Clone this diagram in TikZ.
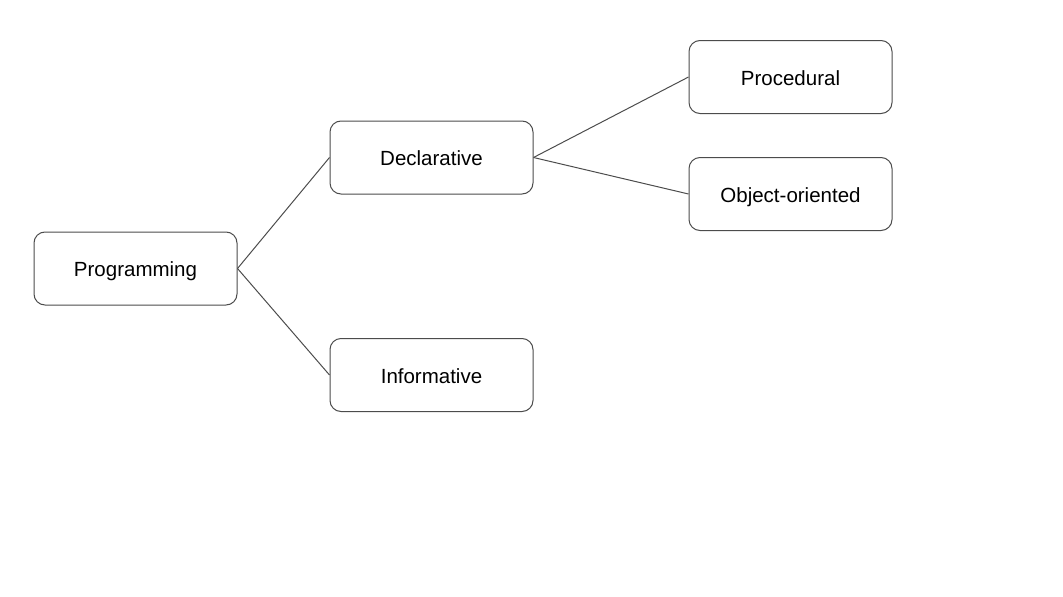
\documentclass[tikz,border=0pt]{standalone}
\usepackage{fontspec}
\setmainfont{Liberation Sans}
\begin{document}
\begin{tikzpicture}[x=1pt,y=-1pt,
  box/.style={draw=black!70, line width=1pt, rounded corners=11pt, minimum width=203pt, minimum height=73pt, inner sep=0pt, text height=16.8pt, text depth=0pt, font=\fontsize{20.5}{24}\selectfont, fill=white},
  link/.style={draw=black!70, line width=1pt}]
\useasboundingbox (0,0) rectangle (1063,597);
\node[box] (prog) at (135.5,268.5) {Programming};
\node[box] (decl) at (431.5,157.5) {Declarative};
\node[box] (info) at (431.5,375) {Informative};
\node[box] (proc) at (790.5,77) {Procedural};
\node[box] (oo) at (790.5,194) {Object-oriented};
\draw[link] (prog.east) -- (decl.west);
\draw[link] (prog.east) -- (info.west);
\draw[link] (decl.east) -- (proc.west);
\draw[link] (decl.east) -- (oo.west);
\end{tikzpicture}
\end{document}
